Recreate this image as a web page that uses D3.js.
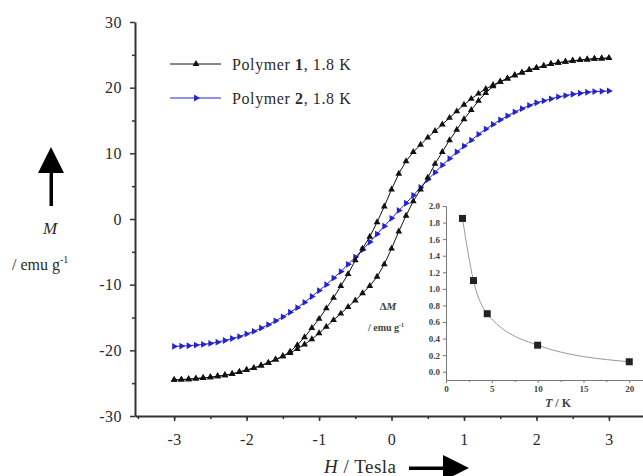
<!DOCTYPE html>
<html>
<head>
<meta charset="utf-8">
<script src="https://cdn.jsdelivr.net/npm/d3@7"></script>
<style>
  body { margin: 0; background: #fff; }
  svg { display: block; font-family: 'Liberation Serif', serif; }
</style>
</head>
<body>
<svg id="chart" width="643" height="476"></svg>
<script>
// field steps (Tesla)
const fieldH = [-3.0, -2.9, -2.8, -2.7, -2.6, -2.5, -2.4, -2.3, -2.2, -2.1, -2.0, -1.9, -1.8, -1.7, -1.6, -1.5, -1.4, -1.3, -1.2, -1.1, -1.0,
    -0.9, -0.8, -0.7, -0.6, -0.5, -0.4, -0.3, -0.2, -0.1, 0.0, 0.1, 0.2, 0.3, 0.4, 0.5, 0.6, 0.7, 0.8, 0.9, 1.0,
    1.1, 1.2, 1.3, 1.4, 1.5, 1.6, 1.7, 1.8, 1.9, 2.0, 2.1, 2.2, 2.3, 2.4, 2.5, 2.6, 2.7, 2.8, 2.9, 3.0];

// polymer 1, branch swept down from +3 T
const poly1Down = [-24.5, -24.45, -24.4, -24.3, -24.2, -24.1, -23.95, -23.8, -23.6, -23.3, -23.0, -22.7, -22.3, -21.9, -21.4, -20.9, -20.2, -19.2, -18.0, -16.6, -15.2,
    -13.6, -12.0, -10.2, -8.4, -6.3, -4.5, -2.7, -0.5, 1.9, 4.5, 6.9, 8.8, 10.2, 11.3, 12.4, 13.4, 14.4, 15.4, 16.4, 17.4,
    18.3, 19.1, 19.8, 20.4, 20.9, 21.4, 21.9, 22.3, 22.7, 23.0, 23.3, 23.6, 23.8, 23.95, 24.1, 24.2, 24.3, 24.4, 24.45, 24.5];

// polymer 1, branch swept up from -3 T
const poly1Up = [-24.5, -24.45, -24.4, -24.3, -24.2, -24.1, -23.95, -23.8, -23.6, -23.3, -23.0, -22.7, -22.3, -21.9, -21.4, -20.9, -20.4, -19.8, -19.1, -18.3, -17.4,
    -16.4, -15.4, -14.4, -13.4, -12.4, -11.3, -10.2, -8.8, -6.9, -4.5, -1.9, 0.5, 2.7, 4.5, 6.3, 8.4, 10.2, 12.0, 13.6, 15.2,
    16.6, 18.0, 19.2, 20.2, 20.9, 21.4, 21.9, 22.3, 22.7, 23.0, 23.3, 23.6, 23.8, 23.95, 24.1, 24.2, 24.3, 24.4, 24.45, 24.5];

// polymer 2 (no hysteresis)
const poly2 = [-19.4, -19.35, -19.3, -19.2, -19.1, -18.95, -18.75, -18.5, -18.2, -17.9, -17.5, -17.1, -16.6, -16.1, -15.5, -14.9, -14.2, -13.5, -12.7, -11.8, -10.9,
    -10.0, -9.0, -8.0, -6.9, -5.8, -4.7, -3.5, -2.3, -1.1, 0.1, 1.3, 2.4, 3.6, 4.8, 6.0, 7.1, 8.2, 9.2, 10.2, 11.1,
    12.0, 12.9, 13.7, 14.4, 15.1, 15.7, 16.3, 16.8, 17.3, 17.7, 18.0, 18.3, 18.6, 18.8, 19.0, 19.15, 19.3, 19.4, 19.45, 19.5];

// inset: hysteresis width vs temperature
const tempK = [1.8, 3, 4.5, 10, 20];
const deltaM = [1.85, 1.1, 0.7, 0.32, 0.12];

const xTicks = [-3, -2, -1, 0, 1, 2, 3];
const yTicks = [-30, -20, -10, 0, 10, 20, 30];
const insetXTicks = [0, 5, 10, 15, 20];
const insetYTicks = [0.0, 0.2, 0.4, 0.6, 0.8, 1.0, 1.2, 1.4, 1.6, 1.8, 2.0];

var svg = d3.select("#chart");

let cs = {
    pallette: {
        axis: "#333",
        text: "#2a2a2a",
        p1: "#111",
        p2: "#2323cf",
        inset: "#999"
    },
    x: { range: [135, 643], axisY: 416 },
    y: { range: [416, 22], axisX: 135 },
    ix: { range: [446, 643], axisY: 380 },
    iy: { range: [380, 206], axisX: 446 }
};

cs.x.scale = d3.scaleLinear().domain([-3.54, 3.47]).range(cs.x.range);
cs.y.scale = d3.scaleLinear().domain([-30, 30]).range(cs.y.range);
cs.ix.scale = d3.scaleLinear().domain([0, 21.5]).range(cs.ix.range);
cs.iy.scale = d3.scaleLinear().domain([-0.1, 2.0]).range(cs.iy.range);

function styleAxis(g, size) {
    g.select(".domain").attr("stroke", cs.pallette.axis).attr("stroke-width", 2);
    g.selectAll(".tick line").attr("stroke", cs.pallette.axis).attr("stroke-width", 1.5);
    g.selectAll(".tick text").attr("fill", cs.pallette.text)
        .style("font-family", "'Liberation Serif', serif").style("font-size", size + "px")
        .style("letter-spacing", "0.5px");
}

// main axes, minor ticks first
svg.append("g")
    .attr("transform", "translate(0," + cs.x.axisY + ")")
    .call(d3.axisBottom(cs.x.scale).tickValues(d3.range(-3.5, 3.5, 0.5)).tickSize(3).tickFormat(""))
    .call(g => g.select(".domain").remove())
    .selectAll("line").attr("stroke", cs.pallette.axis).attr("stroke-width", 1.5);
svg.append("g")
    .attr("transform", "translate(" + cs.y.axisX + ",0)")
    .call(d3.axisLeft(cs.y.scale).tickValues(d3.range(-25, 30, 10)).tickSize(3).tickFormat(""))
    .call(g => g.select(".domain").remove())
    .selectAll("line").attr("stroke", cs.pallette.axis).attr("stroke-width", 1.5);

svg.append("g")
    .attr("transform", "translate(0," + cs.x.axisY + ")")
    .call(d3.axisBottom(cs.x.scale).tickValues(xTicks).tickSize(5).tickSizeOuter(0).tickPadding(13).tickFormat(d => String(d)))
    .call(g => styleAxis(g, 16));
svg.append("g")
    .attr("transform", "translate(" + cs.y.axisX + ",0)")
    .call(d3.axisLeft(cs.y.scale).tickValues(yTicks).tickSize(5).tickSizeOuter(0).tickPadding(8).tickFormat(d => String(d)))
    .call(g => styleAxis(g, 16));

// data lines + markers
let line = d3.line()
    .x((d, i) => cs.x.scale(fieldH[i]))
    .y(d => cs.y.scale(d));

let triUp = d3.symbol().type(d3.symbolTriangle).size(20);

function drawSeries(vals, colour, rot) {
    svg.append("path")
        .datum(vals)
        .attr("fill", "none")
        .attr("stroke", colour)
        .attr("stroke-width", 1)
        .attr("d", line);
    svg.append("g").selectAll("path")
        .data(vals)
        .enter().append("path")
        .attr("d", triUp)
        .attr("fill", colour)
        .attr("transform", (d, i) => "translate(" + cs.x.scale(fieldH[i]) + "," + cs.y.scale(d) + ") rotate(" + rot + ")");
}

drawSeries(poly2, cs.pallette.p2, 90);
drawSeries(poly1Down, cs.pallette.p1, 0);
drawSeries(poly1Up, cs.pallette.p1, 0);

// legend
let legend = [
    { label: "Polymer ", num: "1", tail: ", 1.8 K", colour: cs.pallette.p1, rot: 0, y: 64 },
    { label: "Polymer ", num: "2", tail: ", 1.8 K", colour: cs.pallette.p2, rot: 90, y: 98 }
];
legend.forEach(l => {
    svg.append("line").attr("x1", 170).attr("x2", 221).attr("y1", l.y).attr("y2", l.y)
        .attr("stroke", l.colour).attr("stroke-width", 1);
    svg.append("path").attr("d", triUp).attr("fill", l.colour)
        .attr("transform", "translate(196," + l.y + ") rotate(" + l.rot + ")");
    let t = svg.append("text").attr("x", 232).attr("y", l.y + 6)
        .attr("fill", cs.pallette.text).style("font-size", "16px").style("letter-spacing", "0.6px");
    t.append("tspan").text(l.label);
    t.append("tspan").attr("font-weight", "bold").text(l.num);
    t.append("tspan").text(l.tail);
});

// axis titles
svg.append("text").attr("x", 50).attr("y", 234).attr("text-anchor", "middle")
    .attr("fill", cs.pallette.text).style("font-size", "17px").style("font-style", "italic").text("M");
let yl = svg.append("text").attr("x", 12).attr("y", 270).attr("fill", cs.pallette.text).style("font-size", "16px");
yl.append("tspan").text("/ emu g");
yl.append("tspan").attr("dy", -7).style("font-size", "10px").text("-1");

let xl = svg.append("text").attr("x", 324).attr("y", 473).attr("fill", cs.pallette.text)
    .style("font-size", "19px").style("letter-spacing", "0.5px");
xl.append("tspan").style("font-style", "italic").text("H");
xl.append("tspan").text(" / Tesla");

// arrows
svg.append("rect").attr("x", 49.5).attr("y", 168).attr("width", 3.5).attr("height", 38).attr("fill", "#000");
svg.append("path").attr("d", "M51,147 L38,173 L64,173 Z").attr("fill", "#000");
svg.append("rect").attr("x", 409).attr("y", 466.5).attr("width", 38).attr("height", 3.5).attr("fill", "#000");
svg.append("path").attr("d", "M469,468 L443,455 L443,481 Z").attr("fill", "#000");

// inset
let ig = svg.append("g");
ig.append("g")
    .attr("transform", "translate(0," + cs.ix.axisY + ")")
    .call(d3.axisBottom(cs.ix.scale).tickValues(d3.range(2.5, 21.5, 5)).tickSize(2).tickFormat(""))
    .call(g => g.select(".domain").remove())
    .selectAll("line").attr("stroke", "#777");
ig.append("g")
    .attr("transform", "translate(0," + cs.ix.axisY + ")")
    .call(d3.axisBottom(cs.ix.scale).tickValues(insetXTicks).tickSize(3).tickSizeOuter(0).tickPadding(3).tickFormat(d => String(d)))
    .call(g => {
        g.select(".domain").attr("stroke", "#777").attr("stroke-width", 1);
        g.selectAll(".tick line").attr("stroke", "#777");
        g.selectAll(".tick text").attr("fill", "#444").style("font-family", "'Liberation Serif', serif")
            .style("font-size", "9px").style("font-weight", "bold");
    });
ig.append("g")
    .attr("transform", "translate(" + cs.iy.axisX + ",0)")
    .call(d3.axisLeft(cs.iy.scale).tickValues(insetYTicks).tickSize(3).tickSizeOuter(0).tickPadding(3).tickFormat(d3.format(".1f")))
    .call(g => {
        g.select(".domain").attr("stroke", "#777").attr("stroke-width", 1);
        g.selectAll(".tick line").attr("stroke", "#777");
        g.selectAll(".tick text").attr("fill", "#444").style("font-family", "'Liberation Serif', serif")
            .style("font-size", "9px").style("font-weight", "bold");
    });

let insetLine = d3.line()
    .x((d, i) => cs.ix.scale(tempK[i]))
    .y(d => cs.iy.scale(d))
    .curve(d3.curveMonotoneX);
ig.append("path").datum(deltaM)
    .attr("fill", "none").attr("stroke", cs.pallette.inset).attr("stroke-width", 1)
    .attr("d", insetLine);
ig.selectAll("rect.pt")
    .data(deltaM)
    .enter().append("rect")
    .attr("class", "pt")
    .attr("x", (d, i) => cs.ix.scale(tempK[i]) - 3.5)
    .attr("y", d => cs.iy.scale(d) - 3.5)
    .attr("width", 7).attr("height", 7)
    .attr("fill", "#222");

let il = ig.append("text").attr("x", 388).attr("y", 310).attr("text-anchor", "middle")
    .attr("fill", "#444").style("font-size", "11px").style("font-weight", "bold");
il.append("tspan").text("Δ");
il.append("tspan").style("font-style", "italic").text("M");
let il2 = ig.append("text").attr("x", 386).attr("y", 331).attr("text-anchor", "middle")
    .attr("fill", "#444").style("font-size", "10px").style("font-weight", "bold");
il2.append("tspan").text("/ emu g");
il2.append("tspan").attr("dy", -4).style("font-size", "6px").text("-1");
let it = ig.append("text").attr("x", 558).attr("y", 407).attr("text-anchor", "middle")
    .attr("fill", "#444").style("font-size", "12px").style("font-weight", "bold");
it.append("tspan").style("font-style", "italic").text("T");
it.append("tspan").text(" / K");
</script>
</body>
</html>
